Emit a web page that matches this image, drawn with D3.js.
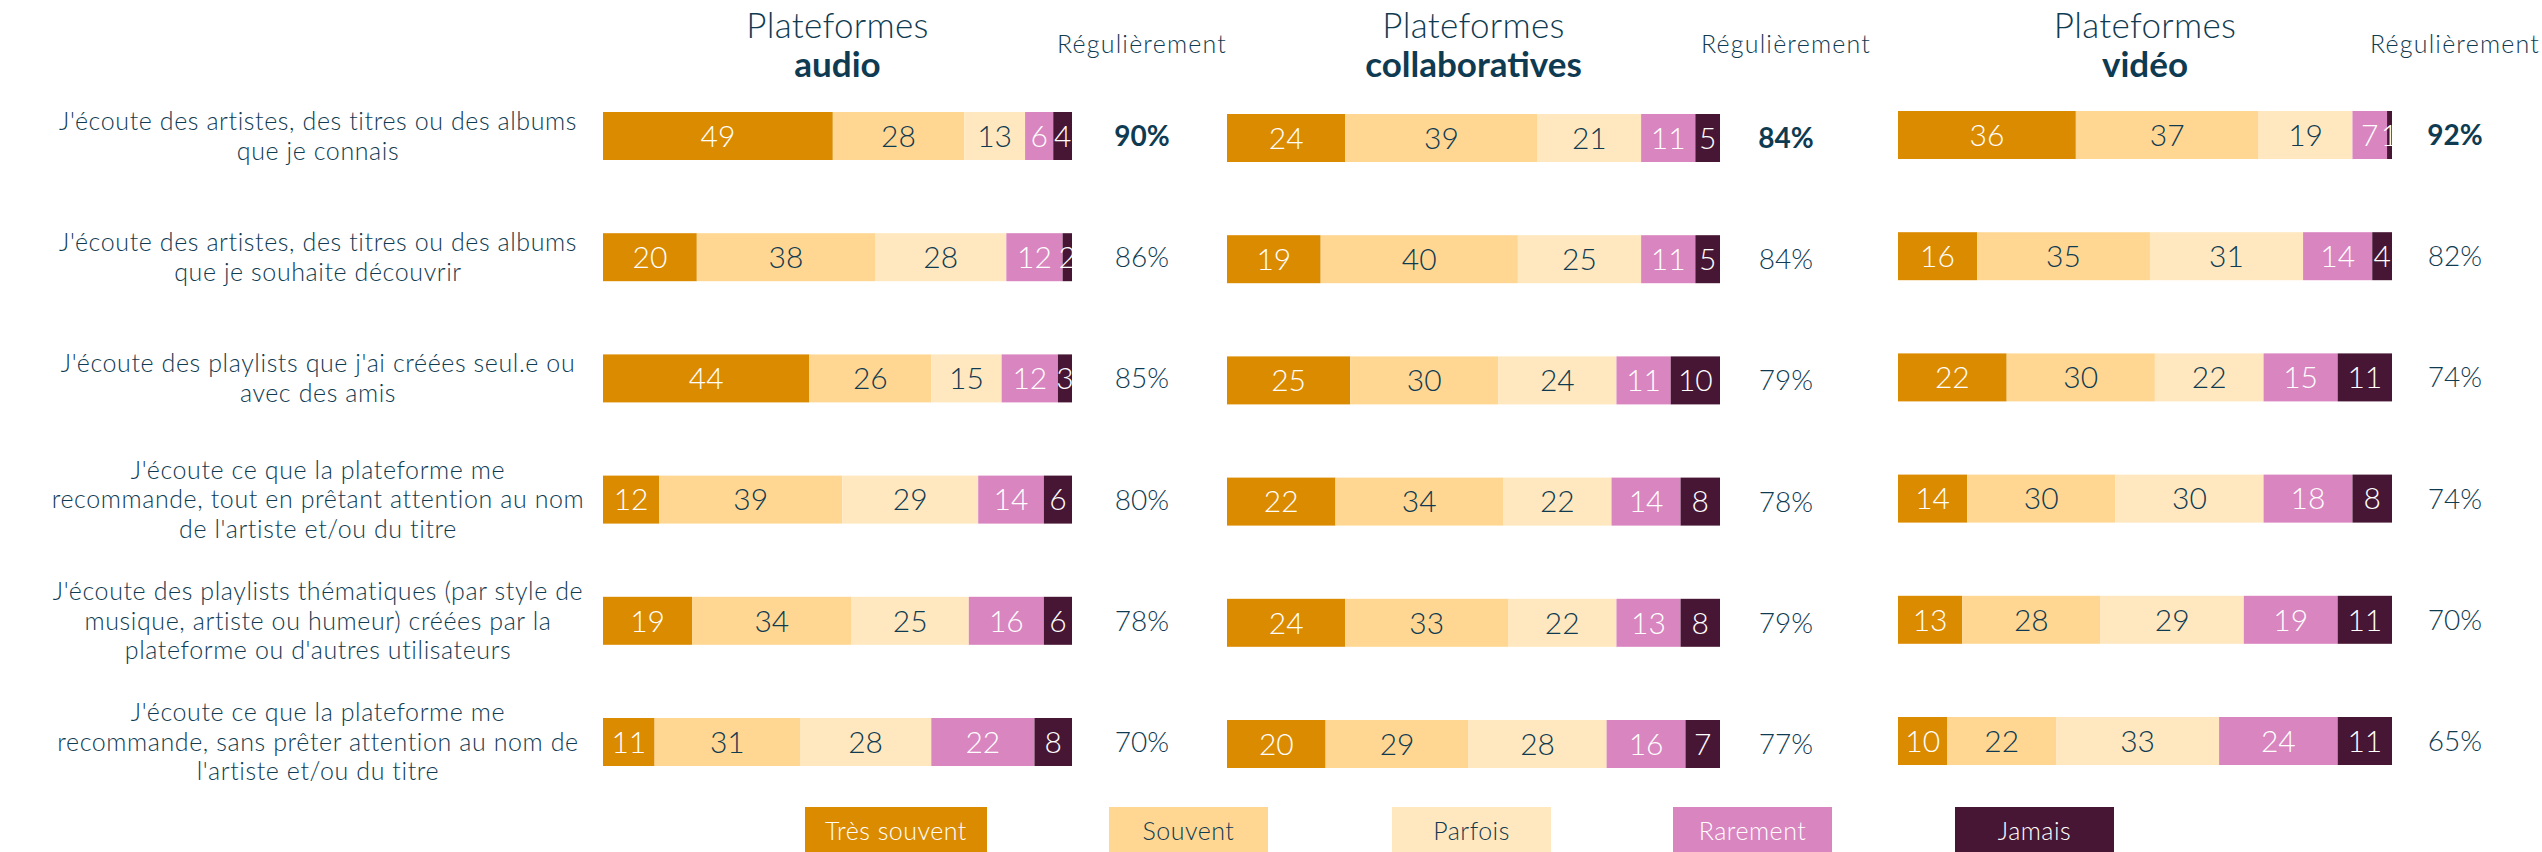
<!DOCTYPE html>
<html>
<head>
<meta charset="utf-8">
<script src="https://cdn.jsdelivr.net/npm/d3@7"></script>
<style>
  html, body { margin: 0; padding: 0; background: #fff; }
  svg { display: block; font-family: Lato, "Open Sans", sans-serif; }
</style>
</head>
<body>
<svg></svg>
<script>
var width = 2542
var height = 852

// data
var rowLabels = [
  ["J'écoute des artistes, des titres ou des albums", "que je connais"],
  ["J'écoute des artistes, des titres ou des albums", "que je souhaite découvrir"],
  ["J'écoute des playlists que j'ai créées seul.e ou", "avec des amis"],
  ["J'écoute ce que la plateforme me", "recommande, tout en prêtant attention au nom", "de l'artiste et/ou du titre"],
  ["J'écoute des playlists thématiques (par style de", "musique, artiste ou humeur) créées par la", "plateforme ou d'autres utilisateurs"],
  ["J'écoute ce que la plateforme me", "recommande, sans prêter attention au nom de", "l'artiste et/ou du titre"]
]
var answers = ["Très souvent", "Souvent", "Parfois", "Rarement", "Jamais"]
var panelTitles = [["Plateformes", "audio"], ["Plateformes", "collaboratives"], ["Plateformes", "vidéo"]]
var regTitle = "Régulièrement"

var audioTresSouvent = [49, 20, 44, 12, 19, 11]
var audioSouvent     = [28, 38, 26, 39, 34, 31]
var audioParfois     = [13, 28, 15, 29, 25, 28]
var audioRarement    = [6, 12, 12, 14, 16, 22]
var audioJamais      = [4, 2, 3, 6, 6, 8]
var audioRegulier    = [90, 86, 85, 80, 78, 70]

var collabTresSouvent = [24, 19, 25, 22, 24, 20]
var collabSouvent     = [39, 40, 30, 34, 33, 29]
var collabParfois     = [21, 25, 24, 22, 22, 28]
var collabRarement    = [11, 11, 11, 14, 13, 16]
var collabJamais      = [5, 5, 10, 8, 8, 7]
var collabRegulier    = [84, 84, 79, 78, 79, 77]

var videoTresSouvent = [36, 16, 22, 14, 13, 10]
var videoSouvent     = [37, 35, 30, 30, 28, 22]
var videoParfois     = [19, 31, 22, 30, 29, 33]
var videoRarement    = [7, 14, 15, 18, 19, 24]
var videoJamais      = [1, 4, 11, 8, 11, 11]
var videoRegulier    = [92, 82, 74, 74, 70, 65]

var colors = ["#db8b00", "#ffd793", "#ffe8bf", "#d985bf", "#461634"]
var labelColors = ["#ffffff", "#0f3b52", "#0f3b52", "#ffffff", "#ffffff"]
var textColor = "#0f3b52"

var panels = [
  { title: panelTitles[0], series: [audioTresSouvent, audioSouvent, audioParfois, audioRarement, audioJamais], reg: audioRegulier, x0: 603, x1: 1072, regX: 1142, dy: 0 },
  { title: panelTitles[1], series: [collabTresSouvent, collabSouvent, collabParfois, collabRarement, collabJamais], reg: collabRegulier, x0: 1227, x1: 1720, regX: 1786, dy: 2 },
  { title: panelTitles[2], series: [videoTresSouvent, videoSouvent, videoParfois, videoRarement, videoJamais], reg: videoRegulier, x0: 1898, x1: 2392, regX: 2455, dy: -1 }
]

var barH = 48
var yScale = d3.scalePoint()
  .domain(d3.range(rowLabels.length))
  .range([136, 742])

var svg = d3.select("svg")
  .attr("width", width)
  .attr("height", height)

// row labels
svg.append("g")
  .selectAll("text")
  .data(rowLabels)
  .enter()
    .append("text")
    .attr("text-anchor", "middle")
    .attr("fill", textColor)
    .style("font-size", "25px")
    .style("letter-spacing", "0.6px")
    .style("font-weight", 300)
    .each(function(lines, i) {
      var t = d3.select(this)
      var lh = 29.5
      var top = yScale(i) - (lines.length - 1) * lh / 2
      lines.forEach(function(l, k) {
        t.append("tspan")
          .attr("x", 318)
          .attr("y", top + k * lh)
          .attr("dy", "0.35em")
          .text(l)
      })
    })

panels.forEach(function(p) {
  var stack = d3.stack().keys(d3.range(5)).value((d, k) => p.series[k][d])
  var rows = stack(d3.range(rowLabels.length))
  var xScale = d3.scaleLinear().domain([0, 100]).range([p.x0, p.x1])
  var g = svg.append("g")

  // header
  var cx = (p.x0 + p.x1) / 2
  g.append("text")
    .attr("x", cx).attr("y", 38)
    .attr("text-anchor", "middle")
    .attr("fill", textColor)
    .style("font-size", "35px")
    .style("letter-spacing", "0.3px")
    .style("font-weight", 300)
    .text(p.title[0])
  g.append("text")
    .attr("x", cx).attr("y", 77)
    .attr("text-anchor", "middle")
    .attr("fill", textColor)
    .style("font-size", "35px")
    .style("font-weight", 700)
    .text(p.title[1])
  g.append("text")
    .attr("x", p.regX).attr("y", 53)
    .attr("text-anchor", "middle")
    .attr("fill", textColor)
    .style("font-size", "25px")
    .style("letter-spacing", "1.2px")
    .style("font-weight", 300)
    .text(regTitle)

  // bars
  rows.forEach(function(layer, k) {
    var lg = g.append("g")
    lg.selectAll("rect")
      .data(layer)
      .enter()
        .append("rect")
        .attr("x", d => xScale(d[0]))
        .attr("width", d => xScale(d[1]) - xScale(d[0]))
        .attr("y", (d, i) => yScale(i) - barH / 2 + p.dy)
        .attr("height", barH)
        .attr("fill", colors[k])
    lg.selectAll("text")
      .data(layer)
      .enter()
        .append("text")
        .attr("x", d => (xScale(d[0]) + xScale(d[1])) / 2)
        .attr("y", (d, i) => yScale(i) + p.dy)
        .attr("dy", "0.36em")
        .attr("text-anchor", "middle")
        .attr("fill", labelColors[k])
        .style("font-size", "30px")
        .style("font-weight", 300)
        .text(d => d[1] - d[0])
  })

  // regulierement values
  g.append("g")
    .selectAll("text")
    .data(p.reg)
    .enter()
      .append("text")
      .attr("x", p.regX)
      .attr("y", (d, i) => yScale(i) + p.dy)
      .attr("dy", "0.36em")
      .attr("text-anchor", "middle")
      .attr("fill", textColor)
      .style("font-size", "28px")
      .style("font-weight", (d, i) => i === 0 ? 700 : 300)
      .text(d => d + "%")
})

// legend
var legendX = [805, 1109, 1392, 1673, 1955]
var legendW = [182, 159, 159, 159, 159]
var legend = svg.append("g")
  .selectAll("g")
  .data(answers)
  .enter()
    .append("g")
    .attr("transform", (d, i) => "translate(" + legendX[i] + ",807)")
legend.append("rect")
  .attr("width", (d, i) => legendW[i])
  .attr("height", 48)
  .attr("fill", (d, i) => colors[i])
legend.append("text")
  .attr("x", (d, i) => legendW[i] / 2)
  .attr("y", 24)
  .attr("dy", "0.35em")
  .attr("text-anchor", "middle")
  .attr("fill", (d, i) => labelColors[i])
  .style("font-size", "25px")
  .style("letter-spacing", "0.5px")
  .style("font-weight", 300)
  .text(d => d)
</script>
</body>
</html>
